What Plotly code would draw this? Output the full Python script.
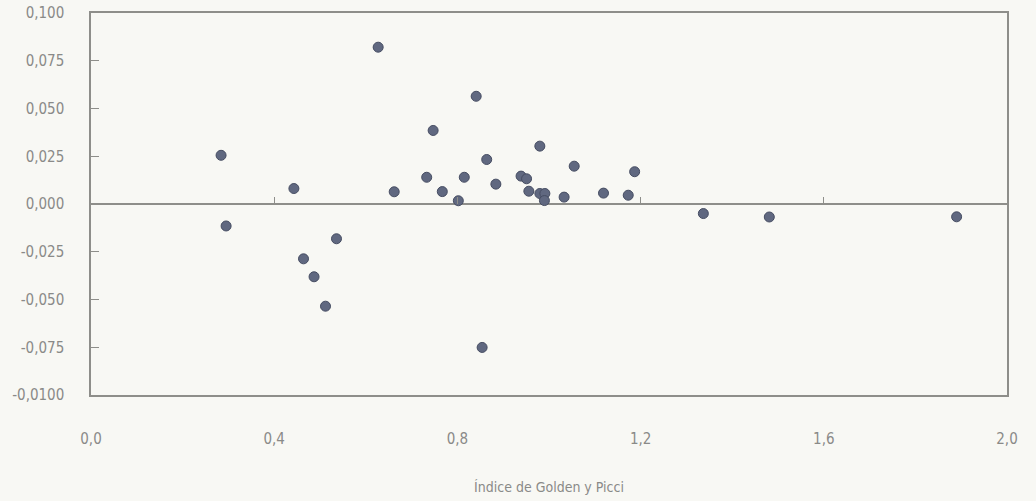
import plotly.graph_objects as go

# Índice de Golden y Picci (x) against the residual value (y)
golden_picci = [
    0.284, 0.295, 0.443, 0.464, 0.487, 0.512, 0.536, 0.627, 0.662, 0.733,
    0.747, 0.767, 0.802, 0.815, 0.841, 0.854, 0.864, 0.884, 0.939, 0.951,
    0.956, 0.980, 0.980, 0.991, 0.990, 1.033, 1.055, 1.119, 1.173, 1.187,
    1.337, 1.481, 1.890,
]
residual = [
    0.0255, -0.0115, 0.0081, -0.0287, -0.0381, -0.0535, -0.0182, 0.0821, 0.0064, 0.0140,
    0.0385, 0.0065, 0.0017, 0.0140, 0.0564, -0.0751, 0.0233, 0.0104, 0.0146, 0.0132,
    0.0067, 0.0303, 0.0055, 0.0055, 0.0018, 0.0036, 0.0198, 0.0057, 0.0046, 0.0169,
    -0.0050, -0.0068, -0.0067,
]

x_tick_vals = [0.0, 0.4, 0.8, 1.2, 1.6, 2.0]
x_tick_text = ["0,0", "0,4", "0,8", "1,2", "1,6", "2,0"]
y_tick_vals = [0.100, 0.075, 0.050, 0.025, 0.000, -0.025, -0.050, -0.075, -0.100]
y_tick_text = ["0,100", "0,075", "0,050", "0,025", "0,000", "-0,025", "-0,050", "-0,075", "-0,0100"]

FONT = "Liberation Sans Narrow, DejaVu Sans Condensed, Arial Narrow, sans-serif"
AXIS_GREY = "#8e8e8a"
TEXT_GREY = "#8a8a88"
BG = "#f8f8f4"

fig = go.Figure()
fig.add_trace(go.Scatter(
    x=golden_picci, y=residual, mode="markers",
    marker=dict(size=10, color="#606880", line=dict(color="#464d62", width=1)),
    showlegend=False, hoverinfo="x+y",
))
# invisible trace that carries the tick marks on the zero line
fig.add_trace(go.Scatter(x=[0, 2], y=[0, 0], xaxis="x2", mode="lines",
                         line=dict(width=0), showlegend=False, hoverinfo="skip"))

fig.update_layout(
    width=1036, height=501,
    margin=dict(l=91, r=29, t=13, b=106),
    paper_bgcolor=BG, plot_bgcolor=BG,
    font=dict(family=FONT, size=15, color=TEXT_GREY),
    xaxis=dict(
        range=[0, 2], tickvals=x_tick_vals, ticktext=x_tick_text,
        showgrid=False, zeroline=False, ticks="", automargin=False,
        showline=True, mirror=True, linecolor=AXIS_GREY, linewidth=1.5,
        ticklabelstandoff=29,
        title=dict(text="Índice de Golden y Picci", standoff=35,
                   font=dict(family=FONT, size=14, color=TEXT_GREY)),
    ),
    xaxis2=dict(
        range=[0, 2], overlaying="x", anchor="free", position=0.5, side="top",
        tickvals=x_tick_vals[1:-1], ticks="outside", ticklen=7, tickwidth=1.2,
        tickcolor=AXIS_GREY, showticklabels=False, showgrid=False,
        zeroline=False, showline=False, automargin=False,
    ),
    yaxis=dict(
        range=[-0.1, 0.1], tickvals=y_tick_vals, ticktext=y_tick_text,
        showgrid=False, ticks="inside", ticklen=8, tickwidth=1.2, tickcolor=AXIS_GREY,
        zeroline=True, zerolinecolor=AXIS_GREY, zerolinewidth=1.5,
        showline=True, mirror=True, linecolor=AXIS_GREY, linewidth=1.5,
        ticklabelstandoff=22, automargin=False,
    ),
)

fig.write_html("out.html")
